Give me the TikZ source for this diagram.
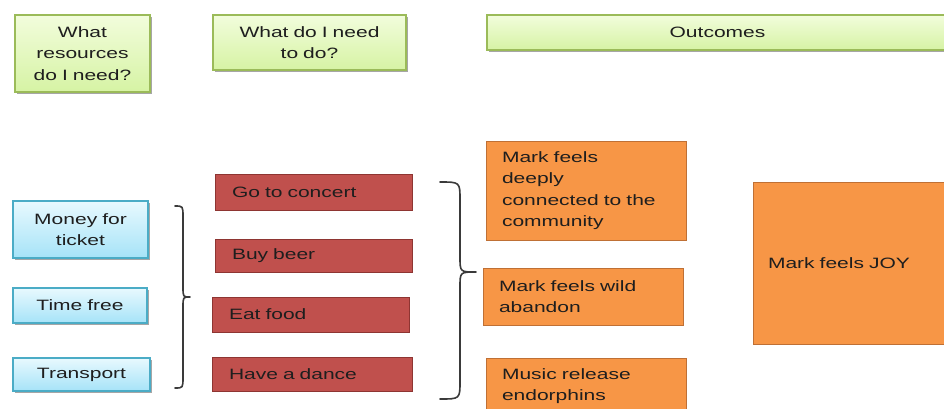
\documentclass[tikz,border=0pt]{standalone}
\usepackage{fontspec}
\setmainfont[FakeStretch=1.4]{Liberation Sans}
\usetikzlibrary{shadows}
\definecolor{txt}{HTML}{1E1E1E}
\definecolor{hdrline}{HTML}{9BBB59}
\definecolor{hdrtop}{HTML}{F2FDDC}
\definecolor{hdrbot}{HTML}{D6F3A4}
\definecolor{blueline}{HTML}{4BACC6}
\definecolor{bluetop}{HTML}{E8F9FE}
\definecolor{bluebot}{HTML}{A6E3F8}
\definecolor{redfill}{HTML}{C0504D}
\definecolor{redline}{HTML}{8E3532}
\definecolor{orfill}{HTML}{F79646}
\definecolor{orline}{HTML}{BF7035}
\definecolor{bracecol}{HTML}{3A3A3A}
\begin{document}
\begin{tikzpicture}[x=1pt,y=-1pt,
  every node/.style={font=\fontsize{15}{21.5}\selectfont, text=txt},
  shadowed/.style={drop shadow={shadow xshift=2pt,shadow yshift=-2pt,opacity=0.35,fill=black}},
  hdr/.style={shadowed, draw=hdrline, line width=1.5pt, top color=hdrtop, bottom color=hdrbot, align=center, inner xsep=4pt, inner ysep=0pt},
  res/.style={shadowed, draw=blueline, line width=1.5pt, top color=bluetop, bottom color=bluebot, align=center, inner xsep=4pt, inner ysep=0pt},
  act/.style={draw=redline, line width=0.8pt, fill=redfill, align=left, inner xsep=17pt, inner ysep=0pt},
  outc/.style={draw=orline, line width=0.8pt, fill=orfill, align=left, inner xsep=16pt, inner ysep=0pt},
  bracep/.style={draw=bracecol, line width=1.6pt, line cap=round, line join=round}
]
\useasboundingbox (0,0) rectangle (944,408);
\clip (0,0) rectangle (944,408);
\fill[white] (0,0) rectangle (944,408);

% headers
\node[hdr, text width=127pt, minimum height=77pt] (hres) at (82.5,53.5) {What\\resources\\do I need?};
\node[hdr, text width=185pt, minimum height=55pt] (hdo) at (309.5,42.5) {What do I need\\to do?};
\node[hdr, text width=453pt, minimum height=35pt] (hout) at (717.5,32.5) {Outcomes};

% resources
\node[res, text width=127pt, minimum height=57pt] (money) at (80.5,229.5) {Money for\\ticket};
\node[res, text width=126pt, minimum height=35pt] (time) at (80,305.5) {Time free};
\node[res, text width=129pt, minimum height=33pt] (transp) at (81.5,374.5) {Transport};

% actions
\node[act, text width=163pt, minimum height=36pt] (concert) at (313.5,192) {Go to concert};
\node[act, text width=163pt, minimum height=33pt] (beer) at (313.5,255.5) {Buy beer};
\node[act, text width=163pt, minimum height=35pt] (food) at (310.5,314.5) {Eat food};
\node[act, text width=166pt, minimum height=34pt] (dance) at (312,374) {Have a dance};

% outcomes
\node[outc, text width=168pt, minimum height=99pt] (deep) at (586,190.5) {Mark feels\\deeply\\connected to the\\community};
\node[outc, text width=168pt, minimum height=57pt] (wild) at (583,296.5) {Mark feels wild\\abandon};
\node[outc, text width=168pt, minimum height=56pt] (music) at (586,386) {Music release\\endorphins};
\node[outc, inner xsep=15pt, text width=167pt, minimum height=162pt] (joy) at (851.5,263) {Mark feels JOY};

% braces
\draw[bracep] (175,206) .. controls (183,206) .. (183,217) -- (183,287)
  .. controls (183,297) .. (190,297) .. controls (183,297) .. (183,307)
  -- (183,377) .. controls (183,388) .. (175,388);
\draw[bracep] (440,182) .. controls (460,182) .. (460,200) -- (460,257)
  .. controls (460,272) .. (476,272) .. controls (460,272) .. (460,287)
  -- (460,381) .. controls (460,399) .. (440,399);
\end{tikzpicture}
\end{document}
